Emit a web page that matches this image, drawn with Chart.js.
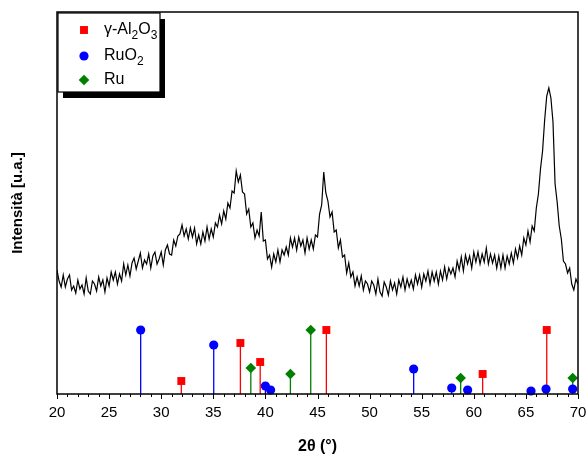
<!DOCTYPE html>
<html><head><meta charset="utf-8">
<script src="https://cdn.jsdelivr.net/npm/chart.js@4"></script>
<style>html,body{margin:0;padding:0;background:#fff;}#wrap{width:587px;height:459px;position:relative}</style>
</head><body><div id="wrap"><canvas id="c" width="587" height="459"></canvas></div>
<script>
// XRD pattern sampled from 20° to 70° every 0.2°
const START_2THETA = 20;
const STEP_2THETA = 0.2;
const intensity = [
124,113,107,119,107, 115,119,104,108,101, 114,105,109,100,116, 103,100,113,110,103,
117,108,114,102,116, 108,122,114,122,110, 120,113,130,119,129, 118,131,136,125,133,
141,126,134,130,140, 126,138,142,130,135, 142,129,144,149,140, 139,154,148,158,160,
169,158,165,155,166, 157,166,150,159,150, 162,153,167,155,165, 157,171,167,179,170,
183,175,191,186,203, 201,223,212,219,202, 200,180,185,167,171, 156,164,158,182,153,
154,135,139,127,140, 132,144,132,144,139, 147,139,156,147,156, 144,157,148,154,141,
156,145,154,145,159, 157,180,189,222,201, 193,177,182,162,164, 146,154,137,139,121,
131,117,122,108,117, 108,118,104,113,110, 102,113,109,100,115, 102,98,112,107,99,
113,104,111,100,114, 107,117,104,115,107, 114,105,119,110,119, 107,120,113,123,110,
122,113,122,110,123, 114,127,115,126,120, 126,117,133,124,137, 123,139,130,138,126,
142,132,142,130,140, 132,146,130,140,131, 139,126,138,126,139, 126,138,130,141,131,
145,136,148,139,156, 149,163,152,168,163, 186,200,225,243,274, 298,306,296,272,210,
192,168,155,133,130, 121,126,110,104,115, 110
];
// Reference peaks
const al2o3Pos = [31.93, 37.6, 39.5, 45.85, 60.85, 67.0];
const al2o3Int = [13, 51, 32, 64, 20, 64];
const ruo2Pos = [28.03, 35.04, 40.0, 40.5, 54.23, 57.88, 59.41, 65.49, 66.93, 69.49];
const ruo2Int = [64, 49, 8, 4, 25, 6, 4, 3, 5, 5];
const ruPos = [38.6, 42.4, 44.35, 58.74, 69.49];
const ruInt = [26, 20, 64, 16, 16];
const legendLabels = ['γ-Al2O3', 'RuO2', 'Ru'];
const xTickLabels = [20, 25, 30, 35, 40, 45, 50, 55, 60, 65, 70];
const xTitle = '2θ (°)';
const yTitle = 'Intensità [u.a.]';

const FONT = "'Liberation Sans', Arial, sans-serif";
const pattern = intensity.map((v, i) => ({x: START_2THETA + i * STEP_2THETA, y: v}));
const pairs = (p, v) => p.map((x, i) => ({x: x, y: v[i]}));

const stemPlugin = {
  id: 'stems',
  beforeDatasetsDraw(chart) {
    const ctx = chart.ctx, ys = chart.scales.y;
    const y0 = ys.getPixelForValue(0);
    chart.data.datasets.forEach((ds, di) => {
      if (!ds.stemColor) return;
      const meta = chart.getDatasetMeta(di);
      ctx.save();
      ctx.strokeStyle = ds.stemColor;
      ctx.lineWidth = 1.3;
      meta.data.forEach(el => {
        ctx.beginPath();
        ctx.moveTo(el.x, y0);
        ctx.lineTo(el.x, el.y);
        ctx.stroke();
      });
      ctx.restore();
    });
  }
};

const framePlugin = {
  id: 'frame',
  afterDraw(chart) {
    const ctx = chart.ctx, a = chart.chartArea, xs = chart.scales.x;
    ctx.save();
    ctx.strokeStyle = '#000';
    ctx.lineWidth = 1.5;
    ctx.strokeRect(a.left, a.top, a.right - a.left, a.bottom - a.top);
    ctx.lineWidth = 1;
    for (let v = xs.min; v <= xs.max; v += 1) {
      const px = Math.round(xs.getPixelForValue(v)) + 0.5;
      const len = (v % 5 === 0) ? 5 : 3;
      ctx.beginPath();
      ctx.moveTo(px, a.bottom);
      ctx.lineTo(px, a.bottom + len);
      ctx.stroke();
    }
    // legend
    const lx = 58, ly = 13, lw = 102, lh = 79;
    ctx.fillStyle = '#000';
    ctx.fillRect(lx + 5, ly + 6, lw, lh);
    ctx.fillStyle = '#fff';
    ctx.fillRect(lx, ly, lw, lh);
    ctx.lineWidth = 1.2;
    ctx.strokeRect(lx, ly, lw, lh);
    const rows = [30, 56, 80];
    [1, 2, 3].forEach((di, k) => {
      const ds = chart.data.datasets[di];
      ctx.fillStyle = ds.stemColor;
      Chart.helpers.drawPoint(ctx, {pointStyle: ds.pointStyle, radius: ds.pointRadius, rotation: 0, borderWidth: 0}, 84, rows[k]);
      let x = 104;
      ctx.fillStyle = '#000';
      ctx.textBaseline = 'middle';
      const parts = legendLabels[k].match(/\d+|\D+/g);
      parts.forEach(p => {
        const sub = /^\d+$/.test(p);
        ctx.font = (sub ? '12px ' : '16px ') + FONT;
        ctx.fillText(p, x, rows[k] + (sub ? 6 : 0));
        x += ctx.measureText(p).width;
      });
    });
    ctx.restore();
  }
};

new Chart(document.getElementById('c'), {
  data: {
    datasets: [
      {type: 'line', label: 'pattern', data: pattern, borderColor: '#000', borderWidth: 1.2, pointRadius: 0, tension: 0, fill: false, order: 2},
      {type: 'scatter', label: legendLabels[0], data: pairs(al2o3Pos, al2o3Int), stemColor: '#ff0000', pointStyle: 'rect', pointRadius: 5.6, backgroundColor: '#ff0000', borderWidth: 0, clip: false, order: 1},
      {type: 'scatter', label: legendLabels[1], data: pairs(ruo2Pos, ruo2Int), stemColor: '#0000ff', pointStyle: 'circle', pointRadius: 4.6, backgroundColor: '#0000ff', borderWidth: 0, clip: false, order: 1},
      {type: 'scatter', label: legendLabels[2], data: pairs(ruPos, ruInt), stemColor: '#008000', pointStyle: 'rectRot', pointRadius: 5.3, backgroundColor: '#008000', borderWidth: 0, clip: false, order: 1}
    ]
  },
  options: {
    responsive: false,
    animation: false,
    devicePixelRatio: 1,
    layout: {padding: {top: 12, right: 9, left: 0, bottom: 0}},
    plugins: {legend: {display: false}, tooltip: {enabled: false}},
    scales: {
      x: {
        type: 'linear', min: 20, max: 70, offset: false,
        afterFit: s => { s.height = 65; s.paddingLeft = 0; s.paddingRight = 0; },
        afterBuildTicks: s => { s.ticks = xTickLabels.map(v => ({value: v})); },
        grid: {display: false, drawTicks: false},
        border: {display: false},
        ticks: {padding: 10, color: '#000', font: {family: FONT, size: 15}, maxRotation: 0, autoSkip: false},
        title: {display: true, text: xTitle, color: '#000', font: {family: FONT, size: 16, weight: 'bold'}, padding: {top: 0, bottom: 3}}
      },
      y: {
        type: 'linear', min: 0, max: 382,
        afterFit: s => { s.width = 57; },
        grid: {display: false, drawTicks: false},
        border: {display: false},
        ticks: {display: false},
        title: {display: true, text: yTitle, color: '#000', font: {family: FONT, size: 15, weight: 'bold'}, padding: {top: 9, bottom: 0}}
      }
    }
  },
  plugins: [stemPlugin, framePlugin]
});
</script>
</body></html>
